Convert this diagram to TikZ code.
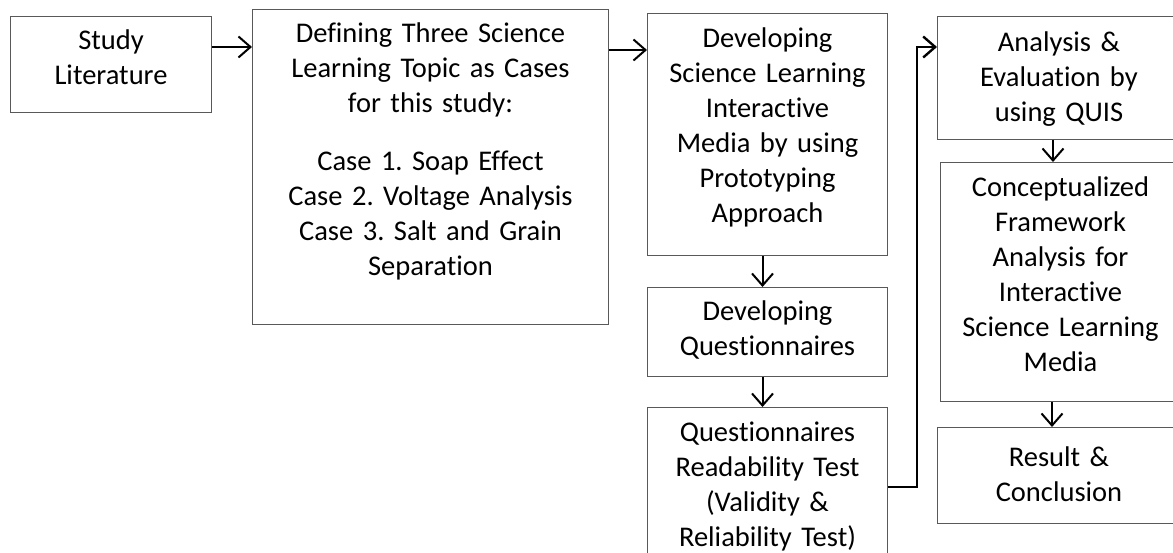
\documentclass[tikz,border=0pt]{standalone}
\usepackage{fontspec}
\setmainfont{Carlito}[Ligatures=NoCommon]
\usetikzlibrary{arrows.meta}
\frenchspacing

\begin{document}
\begin{tikzpicture}[x=1pt, y=-1pt,
	box/.style={draw=black!65, line width=1pt, anchor=north west, align=center,
		inner sep=0pt, font=\fontsize{28.5}{35}\selectfont},
	arr/.style={line width=2pt, -{Straight Barb[length=12pt, width=21pt]}}]
	\useasboundingbox (0,0) rectangle (1173,553);
	\node[box, text width=201pt, text height=33pt, text depth=63pt] (lit) at (10,16) {Study\\ Literature};
	\node[box, text width=356pt, text height=33pt, text depth=282pt] (cases) at (252,9)
		{Defining Three Science\\ Learning Topic as Cases\\ for this study:\\[23pt]
		 Case 1. Soap Effect\\ Case 2. Voltage Analysis\\ Case 3. Salt and Grain\\ Separation};
	\node[box, text width=240pt, text height=34pt, text depth=208pt] (media) at (647,13)
		{Developing\\ Science Learning\\ Interactive\\ Media by using\\ Prototyping\\ Approach};
	\node[box, text width=240pt, text height=33pt, text depth=56pt] (quest) at (647,287) {Developing\\ Questionnaires};
	\node[box, text width=240pt, text height=34pt, text depth=119pt] (test) at (647,407)
		{Questionnaires\\ Readability Test\\ (Validity \&\\ Reliability Test)};
	\node[box, text width=243pt, text height=35pt, text depth=88pt] (quis) at (937,16)
		{Analysis \&\\ Evaluation by\\ using QUIS};
	\node[box, text width=240pt, text height=34pt, text depth=205pt] (frame) at (940,162)
		{Conceptualized\\ Framework\\ Analysis for\\ Interactive\\ Science Learning\\ Media};
	\node[box, text width=243pt, text height=39pt, text depth=57pt] (result) at (937,427) {Result \&\\ Conclusion};

	\draw[arr] ([yshift=-31pt]lit.north east) -- ([yshift=-38pt]cases.north west);
	\draw[arr] ([yshift=-41pt]cases.north east) -- ([yshift=-37pt]media.north west);
	\draw[arr] ([xshift=-5pt]media.south) -- ([xshift=-5pt]quest.north);
	\draw[arr] ([xshift=-5pt]quest.south) -- ([xshift=-5pt]test.north);
	\draw[arr, line width=2.4pt] ([yshift=-80pt]test.north east) -- ++(29,0) |- ([yshift=-31pt]quis.north west);
	\draw[arr] ([xshift=116pt]quis.south west) -- ([xshift=113pt]frame.north west);
	\draw[arr] ([xshift=112pt]frame.south west) -- ([xshift=115pt]result.north west);
\end{tikzpicture}
\end{document}
